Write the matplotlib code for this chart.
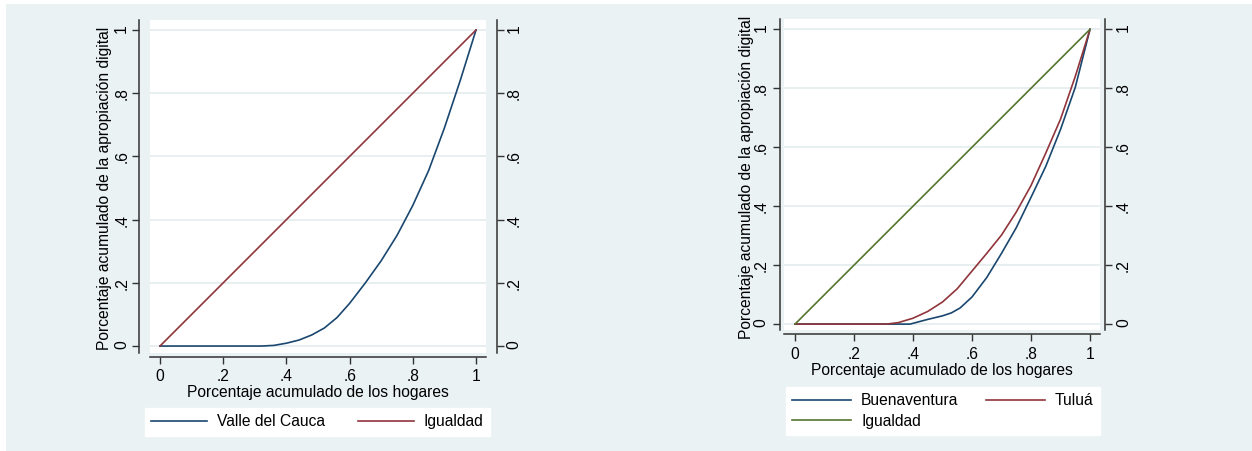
import matplotlib
matplotlib.use("Agg")
import matplotlib.pyplot as plt
from matplotlib.patches import Rectangle

plt.rcParams['font.family'] = ['Liberation Sans', 'DejaVu Sans']

# --- data ---
x_valle = [0, 0.32, 0.36, 0.40, 0.44, 0.48, 0.52, 0.56, 0.60, 0.65, 0.70, 0.75, 0.80, 0.85, 0.90, 0.95, 1]
y_valle = [0, 0, 0.002, 0.009, 0.019, 0.035, 0.057, 0.09, 0.135, 0.2, 0.27, 0.35, 0.445, 0.555, 0.69, 0.84, 1]

x_buena = [0, 0.39, 0.45, 0.50, 0.53, 0.56, 0.60, 0.65, 0.70, 0.75, 0.80, 0.85, 0.90, 0.95, 1]
y_buena = [0, 0, 0.016, 0.028, 0.038, 0.055, 0.092, 0.158, 0.24, 0.327, 0.43, 0.535, 0.66, 0.803, 1]

x_tulua = [0, 0.31, 0.35, 0.40, 0.45, 0.50, 0.55, 0.60, 0.65, 0.70, 0.75, 0.80, 0.85, 0.90, 0.95, 1]
y_tulua = [0, 0, 0.005, 0.02, 0.043, 0.075, 0.12, 0.18, 0.24, 0.302, 0.38, 0.47, 0.58, 0.695, 0.84, 1]

x_igual = [0, 1]
y_igual = [0, 1]

ticks = [0, 0.2, 0.4, 0.6, 0.8, 1]
tick_labels = ['0', '.2', '.4', '.6', '.8', '1']

xtitle = 'Porcentaje acumulado de los hogares'
ytitle = 'Porcentaje acumulado de la apropiación digital'

BG = '#EAF2F3'
NAVY = '#1A476F'
MAROON = '#90353B'
GREEN = '#55752F'
AXC = '#333333'
FS = 11.25

W, H = 1252, 451
fig = plt.figure(figsize=(W / 100, H / 100), dpi=100, facecolor='white')
fig.patches.append(Rectangle((6 / W, 0), 1 - 6 / W, 447 / H, transform=fig.transFigure,
                             facecolor=BG, edgecolor='none', zorder=-10))


def px_axes(x0, y0, x1, y1):
    return fig.add_axes([x0 / W, (H - y1) / H, (x1 - x0) / W, (y1 - y0) / H])


def style(ax, xlim, ylim, out_lr, out_b, xpad, ypad):
    ax.set_facecolor('white')
    ax.set_xlim(*xlim)
    ax.set_ylim(*ylim)
    ax.set_xticks(ticks)
    ax.set_xticklabels(tick_labels)
    ax.set_yticks(ticks)
    ax.set_yticklabels(tick_labels)
    ax.tick_params(axis='y', left=True, right=True, labelleft=True, labelright=True,
                   length=5, width=1, color=AXC, labelsize=FS, pad=ypad, labelrotation=90)
    ax.tick_params(axis='x', length=5, width=1, color=AXC, labelsize=FS, pad=xpad)
    for t in ax.yaxis.get_major_ticks():
        t.label1.set_va('center')
        t.label2.set_va('center')
    ax.spines['top'].set_visible(False)
    ax.spines['left'].set_position(('outward', out_lr[0]))
    ax.spines['right'].set_position(('outward', out_lr[1]))
    ax.spines['bottom'].set_position(('outward', out_b))
    for s in ['left', 'right', 'bottom']:
        ax.spines[s].set_color(AXC)
        ax.spines[s].set_linewidth(1.1)
    ax.yaxis.grid(True, color='#E6EEF0', linewidth=1.3)
    ax.set_axisbelow(True)


# ---- left panel ----
ax1 = px_axes(150, 20, 486, 353)
style(ax1, (-0.0316, 1.0316), (-0.022, 1.0316), (8, 8), 3, 3.5, 2)
ax1.plot(x_valle, y_valle, color=NAVY, lw=1.2, label='Valle del Cauca')
ax1.plot(x_igual, y_igual, color=MAROON, lw=1.2, label='Igualdad')
ax1.set_xlabel(xtitle, fontsize=FS)
ax1.set_ylabel(ytitle, fontsize=FS)
ax1.xaxis.set_label_coords(0.5, -0.096)
ax1.yaxis.set_label_coords(-0.113, 0.495)
ax1.legend(loc='upper left', bbox_to_anchor=(145 / W, 1 - 408 / H), bbox_transform=fig.transFigure,
           ncol=2, fontsize=FS, frameon=True, fancybox=False, framealpha=1, facecolor='white',
           edgecolor='white', borderpad=0.4, borderaxespad=0, handlelength=3.58,
           handletextpad=0.64, columnspacing=2.1)

# ---- right panel ----
ax2 = px_axes(784, 19, 1100, 330)
style(ax2, (-0.0373, 1.0339), (-0.020, 1.035), (3, 3.5), 3, 4.5, 3)
l_b, = ax2.plot(x_buena, y_buena, color=NAVY, lw=1.2, label='Buenaventura')
l_t, = ax2.plot(x_tulua, y_tulua, color=MAROON, lw=1.2, label='Tuluá')
l_i, = ax2.plot(x_igual, y_igual, color=GREEN, lw=1.2, label='Igualdad')
ax2.set_xlabel(xtitle, fontsize=FS)
ax2.set_ylabel(ytitle, fontsize=FS)
ax2.xaxis.set_label_coords(0.5, -0.106)
ax2.yaxis.set_label_coords(-0.095, 0.49)
ax2.legend(handles=[l_b, l_i, l_t], loc='upper left', bbox_to_anchor=(786 / W, 1 - 387 / H),
           bbox_transform=fig.transFigure, ncol=2, fontsize=FS, frameon=True, fancybox=False,
           framealpha=1, facecolor='white', edgecolor='white', borderpad=0.4, borderaxespad=0,
           handlelength=3.77, handletextpad=0.64, columnspacing=1.75, labelspacing=0.36)

fig.savefig('out.png', dpi=100, facecolor=fig.get_facecolor())
